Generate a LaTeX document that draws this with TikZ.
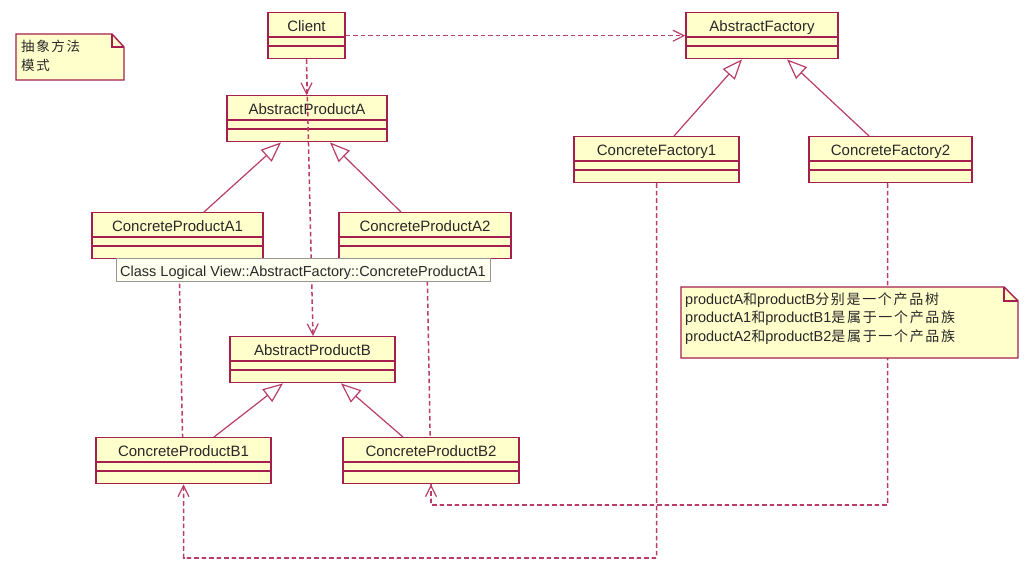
\documentclass[tikz,border=0pt]{standalone}
\usepackage{fontspec}
\setmainfont{Liberation Sans}
\newfontfamily\cjk[LetterSpace=12]{Noto Sans CJK SC}
\usetikzlibrary{arrows.meta}
\pgfdeclarelayer{bg}
\pgfsetlayers{bg,main}
\definecolor{umlborder}{RGB}{165,30,80}
\definecolor{umlline}{RGB}{185,60,105}
\definecolor{umlfill}{RGB}{255,255,204}
\definecolor{umltext}{RGB}{40,40,40}
\definecolor{tipfill}{RGB}{255,255,240}
\definecolor{tipborder}{RGB}{150,150,150}
\tikzset{
 cls/.style={draw=umlborder, fill=umlfill, line width=1.4pt, minimum height=46pt, inner sep=0pt, rectangle},
 clsline/.style={draw=umlborder, line width=1.4pt},
 clstext/.style={text=umltext, font=\fontsize{15}{18}\selectfont, inner sep=0pt, anchor=base},
 gen/.style={draw=umlline, line width=1.2pt, -{Triangle[open, length=20pt, width=16pt]}},
 dep/.style={draw=umlline, line width=1.5pt, dash pattern=on 4.5pt off 3pt, -{Straight Barb[length=11pt, width=11pt, line width=1.2pt]}},
 notebox/.style={draw=umlborder, fill=umlfill, line width=1.4pt, line join=miter},
 notetext/.style={text=umltext, inner sep=0pt, anchor=base west, font=\fontsize{14.5}{18}\selectfont},
 cjktext/.style={text=umltext, inner sep=0pt, anchor=base west, font=\cjk\fontsize{13.5}{16}\selectfont},
}
\newcommand\zh[1]{{\cjk\fontsize{14}{16}\selectfont #1}}
\newcommand\umlclass[5]{%
  \node[cls, minimum width=#4pt, anchor=north] (#1) at (#2,#3) {};
  \draw[clsline] ([yshift=-25pt]#1.north west) -- ([yshift=-25pt]#1.north east);
  \draw[clsline] ([yshift=-34pt]#1.north west) -- ([yshift=-34pt]#1.north east);
  \node[clstext] (#1-label) at ([yshift=-19.5pt]#1.north) {#5};
}
\begin{document}
\begin{tikzpicture}[x=1pt,y=-1pt]
\begin{pgfonlayer}{bg}
\fill[white] (0,0) rectangle (1036,572);
\end{pgfonlayer}
\path[use as bounding box] (0,0) rectangle (1036,572);

% note 1
\draw[notebox] (16,34) -- (112,34) -- (124,47) -- (124,80) -- (16,80) -- cycle;
\draw[notebox, fill=none] (112,34) -- (112,47) -- (124,47);
\node[cjktext] (n1a) at (21,51.5) {抽象方法};
\node[cjktext] (n1b) at (21,70.5) {模式};

% classes
\umlclass{client}{306.5}{12}{77}{Client}
\umlclass{af}{762}{12}{152}{AbstractFactory}
\umlclass{apa}{307}{95}{160}{AbstractProductA}
\umlclass{cf1}{656.5}{136}{165}{ConcreteFactory1}
\umlclass{cf2}{890.5}{136}{163}{ConcreteFactory2}
\umlclass{cpa1}{177.5}{212}{171}{ConcreteProductA1}
\umlclass{cpa2}{425}{212}{172}{ConcreteProductA2}
\umlclass{apb}{312.5}{336}{165}{AbstractProductB}
\umlclass{cpb1}{183.5}{437}{175}{ConcreteProductB1}
\umlclass{cpb2}{431}{437}{176}{ConcreteProductB2}

% note 2
\draw[notebox] (681,287) -- (1004,287) -- (1018,301) -- (1018,358) -- (681,358) -- cycle;
\draw[notebox, fill=none] (1004,287) -- (1004,301) -- (1018,301);
\node[notetext] (n2a) at (685,304) {productA\zh{和}productB\zh{分别是一个产品树}};
\node[notetext] (n2b) at (685,322.5) {productA1\zh{和}productB1\zh{是属于一个产品族}};
\node[notetext] (n2c) at (685,341) {productA2\zh{和}productB2\zh{是属于一个产品族}};

% routed dependencies behind the boxes
\coordinate (r1) at (183.5,558);
\coordinate (r2) at (431,505);
\begin{pgfonlayer}{bg}
\draw[dep] (cf1.south) |- (r1) -- (cpb1.south) -- ([xshift=1.5pt]cpa1.south);
\draw[dep] (cf1.south) |- (r1) -- (cpb1.south);
\draw[dep] ([xshift=-3pt]cf2.south) |- (r2) -- (cpb2.south) -- ([xshift=2pt]cpa2.south);
\draw[dep] ([xshift=-3pt]cf2.south) |- (r2) -- (cpb2.south);
\end{pgfonlayer}

% dependencies from client
\draw[dep] (client.east) -- (af.west);
\draw[dep] (client.south) -- (client.south |- apa.north);
\draw[dep] (client.south) -- ([xshift=0.5pt]apb.north);

% generalizations
\draw[gen] ([xshift=26.5pt]cpa1.north) -- ([xshift=-26pt]apa.south);
\draw[gen] ([xshift=-24pt]cpa2.north) -- ([xshift=23pt]apa.south);
\draw[gen] ([xshift=17.5pt]cf1.north) -- ([xshift=-20pt]af.south);
\draw[gen] ([xshift=-21.5pt]cf2.north) -- ([xshift=25pt]af.south);
\draw[gen] ([xshift=30.5pt]cpb1.north) -- ([xshift=-29.5pt]apb.south);
\draw[gen] ([xshift=-28pt]cpb2.north) -- ([xshift=28.5pt]apb.south);

% tooltip
\node[draw=tipborder, fill=tipfill, line width=1pt, minimum width=374pt, minimum height=23pt, anchor=north west, inner sep=0pt] (tip) at (116,258) {};
\node[text=umltext, font=\fontsize{14.5}{17}\selectfont, anchor=base west, inner sep=0pt] (tiptext) at (120,276) {Class Logical View::AbstractFactory::ConcreteProductA1};
\end{tikzpicture}
\end{document}
